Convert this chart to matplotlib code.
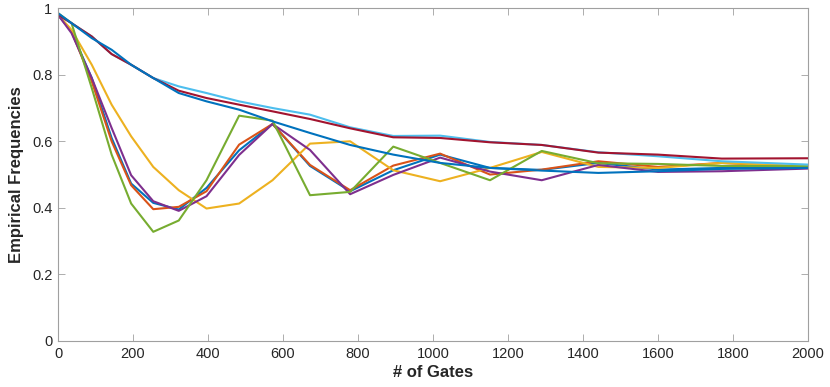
import matplotlib
matplotlib.use("Agg")
import matplotlib.pyplot as plt

plt.rcParams['font.family'] = ['Liberation Sans', 'DejaVu Sans']

gates = [0, 36, 90, 143, 195, 254, 322, 396, 483, 572, 672, 779, 894, 1019, 1152, 1290, 1441, 1600, 1770, 2000]

osc_blue = [0.98, 0.93, 0.79, 0.61, 0.473, 0.415, 0.395, 0.46, 0.573, 0.652, 0.526, 0.45, 0.513, 0.56, 0.52, 0.514, 0.535, 0.515, 0.52, 0.52]
orange = [0.98, 0.93, 0.78, 0.60, 0.468, 0.396, 0.403, 0.45, 0.59, 0.652, 0.529, 0.453, 0.527, 0.563, 0.50, 0.515, 0.54, 0.523, 0.535, 0.522]
yellow = [0.98, 0.935, 0.83, 0.71, 0.615, 0.523, 0.453, 0.398, 0.413, 0.483, 0.593, 0.60, 0.513, 0.48, 0.52, 0.568, 0.523, 0.52, 0.535, 0.525]
purple = [0.98, 0.925, 0.79, 0.64, 0.498, 0.42, 0.391, 0.435, 0.559, 0.652, 0.574, 0.441, 0.499, 0.551, 0.509, 0.483, 0.529, 0.508, 0.51, 0.518]
green = [0.985, 0.955, 0.76, 0.56, 0.413, 0.328, 0.362, 0.483, 0.677, 0.662, 0.438, 0.448, 0.584, 0.535, 0.483, 0.571, 0.534, 0.532, 0.526, 0.525]
light_blue = [0.98, 0.955, 0.915, 0.862, 0.83, 0.79, 0.765, 0.745, 0.72, 0.70, 0.68, 0.642, 0.616, 0.617, 0.598, 0.589, 0.567, 0.555, 0.54, 0.53]
dark_red = [0.98, 0.955, 0.915, 0.862, 0.83, 0.79, 0.752, 0.73, 0.71, 0.69, 0.667, 0.639, 0.612, 0.61, 0.597, 0.589, 0.566, 0.56, 0.548, 0.549]
smooth_blue = [0.985, 0.955, 0.91, 0.875, 0.83, 0.79, 0.745, 0.72, 0.695, 0.66, 0.625, 0.589, 0.56, 0.535, 0.52, 0.512, 0.505, 0.51, 0.517, 0.52]

series = [osc_blue, orange, yellow, purple, green, light_blue, dark_red, smooth_blue]
colors = ['#0072BD', '#D95319', '#EDB120', '#7E2F8E', '#77AC30', '#4DBEEE', '#A2142F', '#0072BD']

fig = plt.figure(figsize=(8.3, 3.87), dpi=100)
ax = fig.add_axes([0.0699, 0.1189, 0.9036, 0.8600])
for s, c in zip(series, colors):
    ax.plot(gates, s, color=c, lw=1.5)

ax.set_xlim(0, 2000)
ax.set_ylim(0, 1)
ax.set_xticks(range(0, 2001, 200))
ax.set_yticks([0, 0.2, 0.4, 0.6, 0.8, 1])
ax.set_yticklabels(['0', '0.2', '0.4', '0.6', '0.8', '1'])
edge = '#262626'
for sp in ax.spines.values():
    sp.set_color('#a0a0a0')
    sp.set_linewidth(0.8)
ax.tick_params(direction='in', top=True, right=True, length=5, width=0.6,
               color='#a0a0a0', labelcolor=edge, labelsize=10.5, pad=4)
ax.set_xlabel('# of Gates', fontsize=12, fontweight='bold', color=edge, labelpad=3)
ax.set_ylabel('Empirical Frequencies', fontsize=12, fontweight='bold', color=edge, labelpad=6)

fig.savefig('out.png', dpi=100)
